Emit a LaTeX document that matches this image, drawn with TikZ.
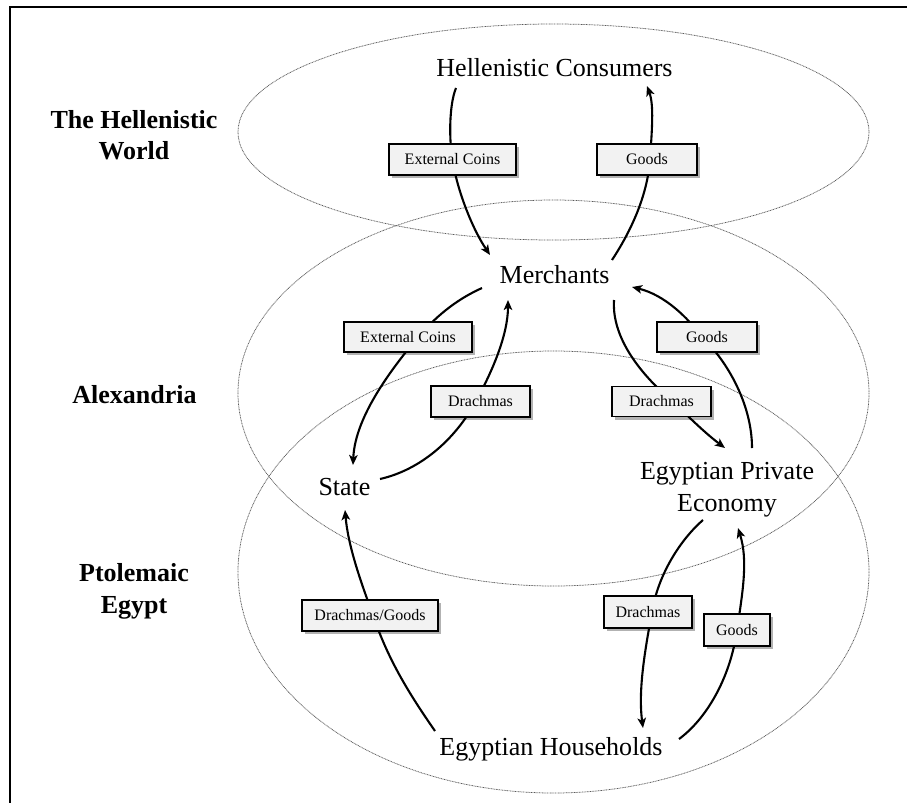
\documentclass[tikz,border=0pt]{standalone}
\usepackage{fontspec}
\setmainfont{Liberation Serif}
\usetikzlibrary{shadows,calc,arrows.meta}
\begin{document}
\begin{tikzpicture}[x=1pt,y=-1pt,
  region/.style={draw=black!65, line width=0.75pt, dash pattern=on 0.9pt off 0.7pt},
  actor/.style={font=\fontsize{26}{32}\selectfont, inner sep=2pt},
  area/.style={font=\fontsize{26}{31}\selectfont\bfseries, inner sep=2pt, align=center},
  flowlabel/.style={draw=black, line width=1.5pt, fill=black!5, font=\fontsize{16}{19}\selectfont,
    minimum height=31pt, inner sep=0pt,
    drop shadow={shadow xshift=3pt, shadow yshift=-3pt, opacity=0.3, fill=black}},
  flow/.style={line width=2.1pt, -{Stealth[length=10pt,width=8.5pt,inset=2.5pt]}}
]
\useasboundingbox (0,0) rectangle (907,803);
\fill[white] (0,0) rectangle (907,803);
% frame
\draw[line width=1.8pt] (907,7) -- (10,7) -- (10,803);

% regions
\draw[region] (553.5,132) ellipse [x radius=315.5, y radius=108];
\draw[region] (553.5,393) ellipse [x radius=315.5, y radius=193];
\draw[region] (553.5,572) ellipse [x radius=315.5, y radius=221];

% region labels
\node[area] (tw) at (134,134.7) {The Hellenistic\\World};
\node[area, anchor=base] (al) at (134.5,403) {Alexandria};
\node[area, font=\fontsize{26}{32}\selectfont\bfseries] (pe) at (134,591) {Ptolemaic\\Egypt};

% actors
\node[actor, anchor=base] (hc) at (554.5,76) {Hellenistic Consumers};
\node[actor, anchor=base] (merch) at (554.5,283) {Merchants};
\node[actor, anchor=base] (state) at (344.5,495) {State};
\node[actor, align=center] (epe) at (727,490) {Egyptian Private\\Economy};
\node[actor, anchor=base] (eh) at (551,755) {Egyptian Households};

% flows
\draw[flow] ($(hc.base)+(-98.5,12)$) .. controls (449,105) and (449,140) .. (452.5,159.5)
  .. controls (456,185) and (470,225) .. ($(merch.base)+(-64.5,-28)$);
\draw[flow] ($(merch.base)+(57.5,-23)$) .. controls (635,225) and (648,190) .. (650,159)
  .. controls (652,130) and (654,105) .. ($(hc.base)+(92.5,10)$);
\draw[flow] ($(merch.base)+(-72.5,5)$) .. controls (460,298) and (440,312) .. (418,337)
  .. controls (395,365) and (355,415) .. ($(state.base)+(8.5,-30)$);
\draw[flow] ($(state.base)+(35.5,-16)$) .. controls (420,470) and (455,440) .. (476,401)
  .. controls (492,372) and (508,335) .. ($(merch.base)+(-46.5,17)$);
\draw[flow] ($(merch.base)+(59.5,17)$) .. controls (612,330) and (630,365) .. (672,401)
  .. controls (690,418) and (705,433) .. ($(epe)+(-2,-42)$);
\draw[flow] ($(epe)+(25,-42)$) .. controls (752,405) and (728,362) .. (702,337)
  .. controls (688,318) and (665,295) .. ($(merch.base)+(77.5,4)$);
\draw[flow] ($(eh.base)+(-116,-24)$) .. controls (410,695) and (388,660) .. (373,615)
  .. controls (360,580) and (348,545) .. ($(state.base)+(0.5,15)$);
\draw[flow] ($(epe)+(-24,30)$) .. controls (680,540) and (658,575) .. (652,612)
  .. controls (645,650) and (638,690) .. ($(eh.base)+(92,-27)$);
\draw[flow] ($(eh.base)+(128,-16)$) .. controls (705,720) and (730,680) .. (737,630)
  .. controls (743,590) and (748,560) .. ($(epe)+(11,38)$);

% flow labels
\node[flowlabel, minimum width=127pt] (b1) at (452.5,159.5) {External Coins};
\node[flowlabel, minimum width=100pt] (b2) at (647,159.5) {Goods};
\node[flowlabel, minimum width=128pt, minimum height=30pt] (b3) at (408,337) {External Coins};
\node[flowlabel, minimum width=99pt] (b4) at (480.5,401.5) {Drachmas};
\node[flowlabel, minimum width=99pt, minimum height=30pt] (b5) at (661.5,401.5) {Drachmas};
\node[flowlabel, minimum width=100pt, minimum height=30pt] (b6) at (707,337) {Goods};
\node[flowlabel, minimum width=136pt] (b7) at (370,615.5) {Drachmas/Goods};
\node[flowlabel, minimum width=88pt, minimum height=32pt] (b8) at (648,612) {Drachmas};
\node[flowlabel, minimum width=66pt, minimum height=32pt] (b9) at (737,630) {Goods};
\end{tikzpicture}
\end{document}
